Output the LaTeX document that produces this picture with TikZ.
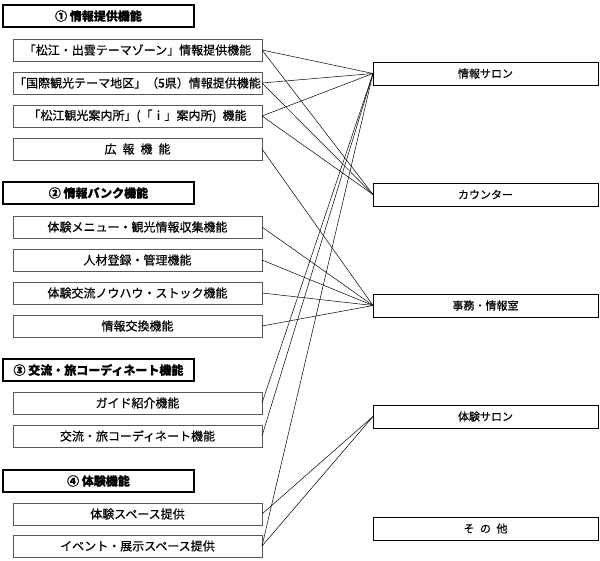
\documentclass[tikz,border=0pt]{standalone}
\usepackage{fontspec}
\usepackage{tikz}
\usetikzlibrary{positioning}
\newfontfamily\jpfont{Noto Sans CJK JP}[FakeBold=0.5]

\begin{document}
\begin{tikzpicture}[x=1pt, y=-1pt, font=\jpfont\fontsize{12}{14}\selectfont]
        \tikzstyle{head} = [rectangle, draw, line width=1.2pt, minimum width=191pt, minimum height=22pt, inner sep=0pt, outer sep=0pt, font=\jpfont\bfseries\fontsize{12}{14}\selectfont]
        \tikzstyle{item} = [rectangle, draw=black!65, line width=0.6pt, minimum width=249pt, minimum height=22pt, inner sep=0pt, outer sep=0pt]
        \tikzstyle{room} = [rectangle, draw, line width=0.9pt, minimum width=225pt, minimum height=23pt, inner sep=0pt, outer sep=0pt, font=\jpfont\fontsize{11}{13}\selectfont]
        \tikzstyle{line} = [draw, line width=0.5pt]

        \useasboundingbox (0,0) rectangle (600,561);

        % functions (left)
        \node [head, anchor=north west] (h1) at (3,5) {① 情報提供機能};
        \node [item, below=12pt of h1.south west, anchor=north west, xshift=10pt] (izumo) {「松江・出雲テーマゾーン」情報提供機能};
        \node [item, below=11pt of izumo] (kokusai) {「国際観光テーマ地区」（5県）情報提供機能};
        \node [item, below=11pt of kokusai] (annai) {「松江観光案内所」(「ｉ」案内所)\enspace 機能};
        \node [item, below=11pt of annai] (koho) {広\enspace 報\enspace 機\enspace 能};

        \node [head, below=22pt of koho.south west, anchor=north west, xshift=-10pt] (h2) {② 情報バンク機能};
        \node [item, below=12pt of h2.south west, anchor=north west, xshift=10pt] (menu) {体験メニュー・観光情報収集機能};
        \node [item, below=11pt of menu] (jinzai) {人材登録・管理機能};
        \node [item, below=11pt of jinzai] (knowhow) {体験交流ノウハウ・ストック機能};
        \node [item, below=11pt of knowhow] (kokan) {情報交換機能};

        \node [head, below=22pt of kokan.south west, anchor=north west, xshift=-10pt] (h3) {③ 交流・旅コーディネート機能};
        \node [item, below=11pt of h3.south west, anchor=north west, xshift=10pt] (guide) {ガイド紹介機能};
        \node [item, below=11pt of guide] (coord) {交流・旅コーディネート機能};

        \node [head, below=23pt of coord.south west, anchor=north west, xshift=-10pt] (h4) {④ 体験機能};
        \node [item, below=11pt of h4.south west, anchor=north west, xshift=10pt] (space) {体験スペース提供};
        \node [item, below=10pt of space] (event) {イベント・展示スペース提供};

        % rooms (right)
        \node [room, anchor=north west] (salon) at (373,62) {情報サロン};
        \node [room, below=98pt of salon] (counter) {カウンター};
        \node [room, below=88pt of counter] (office) {事務・情報室};
        \node [room, below=88pt of office] (taiken) {体験サロン};
        \node [room, below=89pt of taiken] (other) {そ\enspace の\enspace 他};

        \path [line] (izumo.east) -- (salon.west);
        \path [line] (izumo.east) -- (counter.west);
        \path [line] (kokusai.east) -- (salon.west);
        \path [line] (kokusai.east) -- (counter.west);
        \path [line] (annai.east) -- (salon.west);
        \path [line] (annai.east) -- (counter.west);
        \path [line] (koho.east) -- (office.west);
        \path [line] (menu.east) -- (office.west);
        \path [line] (jinzai.east) -- (office.west);
        \path [line] (knowhow.east) -- (office.west);
        \path [line] (kokan.east) -- (office.west);
        \path [line] (guide.east) -- (salon.west);
        \path [line] (coord.east) -- (salon.west);
        \path [line] (space.east) -- (taiken.west);
        \path [line] (event.east) -- (taiken.west);
        \path [line] (event.east) -- (salon.west);
    \end{tikzpicture}
\end{document}
